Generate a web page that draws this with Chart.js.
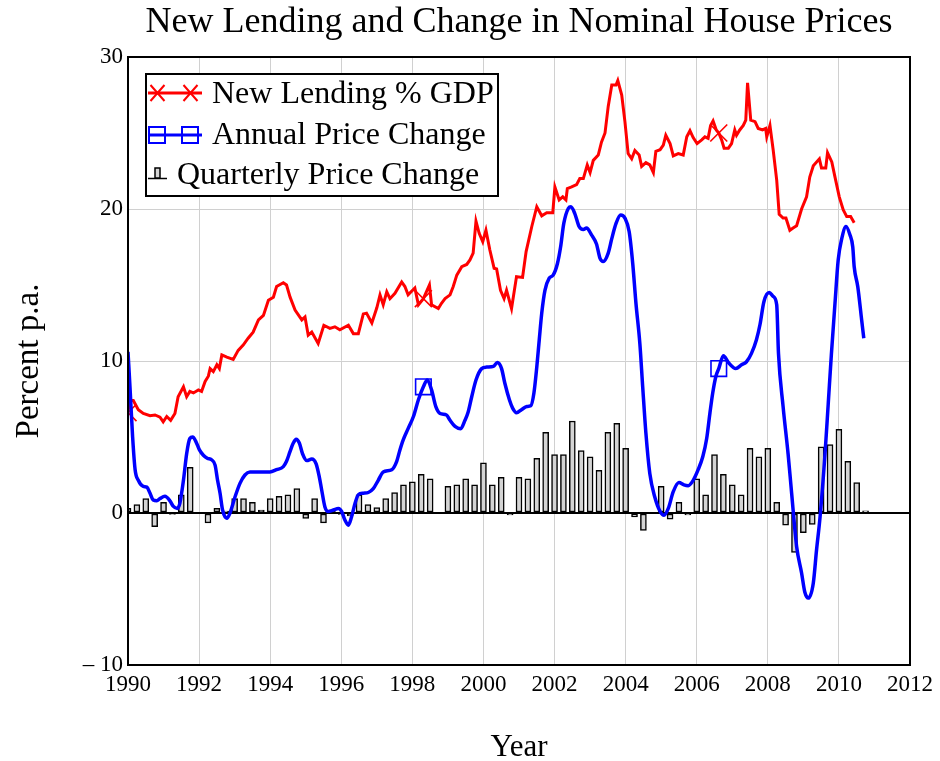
<!DOCTYPE html>
<html>
<head>
<meta charset="utf-8">
<title>New Lending and Change in Nominal House Prices</title>
<script src="https://cdn.jsdelivr.net/npm/chart.js@4.4.0/dist/chart.umd.min.js"></script>
<style>
  html, body { margin: 0; padding: 0; background: #fff; }
  #wrap { width: 940px; height: 761px; }
</style>
</head>
<body>
<div id="wrap"><canvas id="chart" width="940" height="761"></canvas></div>
<script>
// New lending as % of GDP
const lendYears = [
  1990.00, 1990.04, 1990.15, 1990.29, 1990.43, 1990.62, 1990.76, 1990.90, 1990.99, 1991.09,
  1991.20, 1991.32, 1991.41, 1991.56, 1991.65, 1991.74, 1991.84, 1991.98, 1992.07, 1992.17,
  1992.26, 1992.31, 1992.40, 1992.50, 1992.57, 1992.64, 1992.78, 1992.96, 1993.10, 1993.24,
  1993.38, 1993.52, 1993.67, 1993.81, 1993.95, 1994.09, 1994.18, 1994.37, 1994.46, 1994.56,
  1994.70, 1994.89, 1994.98, 1995.07, 1995.17, 1995.35, 1995.51, 1995.68, 1995.82, 1995.96,
  1996.20, 1996.34, 1996.48, 1996.62, 1996.71, 1996.86, 1997.00, 1997.09, 1997.18, 1997.28,
  1997.37, 1997.51, 1997.70, 1997.79, 1997.88, 1998.07, 1998.17, 1998.31, 1998.48, 1998.54,
  1998.73, 1998.82, 1998.92, 1999.06, 1999.15, 1999.25, 1999.39, 1999.53, 1999.62, 1999.71,
  1999.79, 1999.88, 1999.98, 2000.07, 2000.18, 2000.30, 2000.37, 2000.48, 2000.58, 2000.65,
  2000.79, 2000.93, 2001.10, 2001.20, 2001.36, 2001.50, 2001.64, 2001.78, 2001.95, 2002.01,
  2002.13, 2002.23, 2002.32, 2002.36, 2002.48, 2002.62, 2002.71, 2002.81, 2002.92, 2003.00,
  2003.09, 2003.23, 2003.32, 2003.42, 2003.51, 2003.61, 2003.73, 2003.78, 2003.89, 2003.98,
  2004.07, 2004.17, 2004.26, 2004.38, 2004.45, 2004.57, 2004.68, 2004.78, 2004.85, 2004.97,
  2005.06, 2005.13, 2005.25, 2005.34, 2005.48, 2005.62, 2005.72, 2005.81, 2005.90, 2006.01,
  2006.14, 2006.23, 2006.32, 2006.39, 2006.46, 2006.55, 2006.62, 2006.70, 2006.77, 2006.89,
  2006.98, 2007.07, 2007.12, 2007.21, 2007.31, 2007.38, 2007.43, 2007.52, 2007.64, 2007.73,
  2007.85, 2007.94, 2007.97, 2008.06, 2008.15, 2008.25, 2008.32, 2008.43, 2008.51, 2008.62,
  2008.71, 2008.81, 2008.95, 2009.09, 2009.18, 2009.28, 2009.45, 2009.51, 2009.63, 2009.68,
  2009.80, 2009.89, 2010.01, 2010.12, 2010.22, 2010.33, 2010.43
];
const lendValues = [
  6.6, 7.4, 7.4, 6.8, 6.55, 6.4, 6.45, 6.3, 6.0, 6.35,
  6.1, 6.55, 7.65, 8.3, 7.65, 8.0, 7.9, 8.1, 8.0, 8.65,
  9.0, 9.5, 9.3, 9.75, 9.5, 10.4, 10.25, 10.1, 10.7, 11.05,
  11.5, 11.9, 12.7, 13.0, 14.0, 14.2, 14.9, 15.15, 15.0, 14.2,
  13.35, 12.7, 12.9, 11.7, 11.9, 11.15, 12.35, 12.15, 12.25, 12.05,
  12.35, 11.8, 11.8, 13.1, 13.15, 12.5, 13.5, 14.35, 13.7, 14.55,
  14.1, 14.45, 15.2, 14.9, 14.35, 14.8, 13.7, 14.1, 15.0, 13.7,
  13.45, 13.8, 14.1, 14.35, 14.9, 15.65, 16.2, 16.35, 16.65, 17.1,
  19.2, 18.4, 17.85, 18.6, 17.3, 16.1, 16.05, 14.65, 14.1, 14.65,
  13.45, 15.55, 15.5, 17.2, 18.85, 20.15, 19.55, 19.75, 19.75, 21.45,
  20.6, 20.8, 20.6, 21.35, 21.45, 21.6, 22.0, 22.0, 22.9, 22.4,
  23.2, 23.55, 24.4, 25.0, 26.75, 28.15, 28.15, 28.45, 27.5, 25.75,
  23.65, 23.3, 23.85, 23.55, 22.8, 23.05, 22.9, 22.4, 23.8, 23.9,
  24.2, 24.85, 24.3, 23.5, 23.65, 23.55, 24.75, 25.15, 24.7, 24.3,
  24.55, 24.75, 24.65, 25.5, 25.8, 25.2, 25.0, 24.55, 24.0, 24.0,
  24.3, 25.2, 24.85, 25.2, 25.5, 25.85, 28.3, 25.85, 25.75, 25.3,
  25.2, 25.3, 24.75, 25.5, 23.9, 21.9, 19.65, 19.4, 19.4, 18.6,
  18.75, 18.9, 20.0, 20.8, 22.1, 22.85, 23.3, 22.7, 22.7, 23.7,
  23.1, 22.1, 20.8, 19.95, 19.5, 19.5, 19.1
];
const lendMarkers = [1990.00, 1998.31, 2006.62];

// Annual house price change, % p.a.
const annualYears = [
  1990.00, 1990.06, 1990.13, 1990.20, 1990.29, 1990.43, 1990.53, 1990.62, 1990.71, 1990.81,
  1990.90, 1991.04, 1991.18, 1991.27, 1991.39, 1991.46, 1991.56, 1991.65, 1991.74, 1991.82,
  1991.91, 1992.01, 1992.12, 1992.23, 1992.35, 1992.45, 1992.52, 1992.59, 1992.66, 1992.78,
  1992.87, 1993.01, 1993.15, 1993.29, 1993.43, 1993.71, 1993.99, 1994.18, 1994.37, 1994.46,
  1994.56, 1994.65, 1994.73, 1994.82, 1994.91, 1995.03, 1995.17, 1995.29, 1995.38, 1995.45,
  1995.54, 1995.63, 1995.78, 1995.92, 1996.01, 1996.10, 1996.20, 1996.29, 1996.39, 1996.48,
  1996.62, 1996.76, 1996.90, 1997.04, 1997.18, 1997.42, 1997.56, 1997.65, 1997.74, 1997.88,
  1998.03, 1998.17, 1998.31, 1998.42, 1998.54, 1998.66, 1998.78, 1998.96, 1999.06, 1999.20,
  1999.36, 1999.48, 1999.57, 1999.67, 1999.79, 1999.95, 2000.09, 2000.28, 2000.39, 2000.51,
  2000.60, 2000.73, 2000.82, 2000.93, 2001.07, 2001.22, 2001.33, 2001.42, 2001.50, 2001.57,
  2001.64, 2001.73, 2001.85, 2001.96, 2002.08, 2002.17, 2002.26, 2002.39, 2002.46, 2002.57,
  2002.69, 2002.81, 2002.90, 2003.04, 2003.18, 2003.28, 2003.37, 2003.51, 2003.61, 2003.73,
  2003.86, 2003.98, 2004.10, 2004.20, 2004.29, 2004.40, 2004.48, 2004.57, 2004.68, 2004.82,
  2004.97, 2005.08, 2005.20, 2005.34, 2005.50, 2005.64, 2005.76, 2005.90, 2006.04, 2006.17,
  2006.28, 2006.37, 2006.45, 2006.54, 2006.62, 2006.75, 2006.89, 2007.10, 2007.26, 2007.40,
  2007.54, 2007.68, 2007.78, 2007.89, 2008.04, 2008.15, 2008.25, 2008.30, 2008.43, 2008.57,
  2008.67, 2008.81, 2008.95, 2009.04, 2009.14, 2009.28, 2009.37, 2009.47, 2009.61, 2009.70,
  2009.79, 2009.89, 2009.98, 2010.08, 2010.20, 2010.31, 2010.39, 2010.43, 2010.53, 2010.64,
  2010.70
];
const annualValues = [
  10.6, 8.1, 5.0, 2.85, 2.15, 1.75, 1.7, 1.3, 0.85, 0.8,
  0.95, 1.1, 0.8, 0.45, 0.3, 0.65, 2.15, 3.9, 4.9, 5.0,
  4.7, 4.15, 3.8, 3.6, 3.5, 3.15, 2.15, 1.3, 0.2, -0.35,
  0.0, 1.05, 1.95, 2.5, 2.7, 2.7, 2.7, 2.85, 3.05, 3.4,
  4.05, 4.6, 4.85, 4.6, 3.9, 3.45, 3.55, 3.25, 2.4, 1.5,
  0.4, 0.1, 0.2, 0.3, 0.1, -0.45, -0.8, -0.25, 0.65, 1.2,
  1.3, 1.35, 1.6, 2.15, 2.7, 2.85, 3.4, 4.15, 4.8, 5.55,
  6.35, 7.45, 8.3, 8.75, 8.1, 7.0, 6.55, 6.45, 6.1, 5.7,
  5.55, 6.1, 6.65, 7.65, 8.75, 9.5, 9.6, 9.65, 9.9, 9.5,
  8.55, 7.45, 6.9, 6.6, 6.8, 7.0, 7.05, 7.9, 9.6, 11.4,
  13.15, 14.65, 15.45, 15.65, 16.4, 17.5, 19.05, 20.05, 20.15, 19.7,
  18.85, 18.65, 18.75, 18.3, 17.7, 16.75, 16.55, 17.1, 18.05, 19.05,
  19.6, 19.4, 18.5, 16.4, 13.8, 11.15, 8.3, 5.25, 2.6, 1.05,
  0.1, -0.15, 0.3, 1.4, 2.0, 1.85, 1.8, 2.15, 2.85, 3.7,
  4.9, 6.55, 7.9, 9.0, 9.5, 10.35, 9.9, 9.5, 9.75, 9.95,
  10.5, 11.4, 12.4, 13.9, 14.5, 14.25, 13.7, 10.5, 7.0, 3.9,
  1.3, -2.2, -3.95, -5.2, -5.6, -4.6, -2.45, -0.25, 3.9, 7.2,
  10.5, 13.8, 16.65, 18.05, 18.85, 18.3, 17.5, 16.2, 14.9, 12.7,
  11.5
];
const annualMarkers = [1998.31, 2006.62];

// Quarterly house price change, one bar per quarter from 1990 Q1
const firstQuarter = 1990;
const quarterlyValues = [
  0.3, 0.55, 0.95, -0.9, 0.7, -0.1, 1.2, 3.0, 0.0, -0.65,
  0.3, 0.13, 0.95, 0.95, 0.7, 0.2, 0.95, 1.1, 1.2, 1.6,
  -0.35, 0.95, -0.65, 0.2, -0.1, -0.2, 1.2, 0.55, 0.35, 0.95,
  1.35, 1.85, 2.05, 2.55, 2.25, 0.0, 1.75, 1.85, 2.25, 1.85,
  3.3, 1.85, 2.35, -0.13, 2.35, 2.25, 3.6, 5.3, 3.85, 3.85,
  6.05, 4.1, 3.7, 2.8, 5.3, 5.9, 4.25, -0.25, -1.15, 0.0,
  1.75, -0.4, 0.7, -0.13, 2.25, 1.2, 3.85, 2.55, 1.85, 1.2,
  4.25, 3.7, 4.25, 0.7, -0.8, -2.6, -1.3, -0.75, 4.35, 4.5,
  5.5, 3.4, 2.0, 0.15
];

const titleText = 'New Lending and Change in Nominal House Prices';
const serif = "'Liberation Serif', 'Times New Roman', serif";

const lendPoints = lendYears.map((x, i) => ({ x: x, y: lendValues[i] }));
const annualPoints = annualYears.map((x, i) => ({ x: x, y: annualValues[i] }));
const quarterPoints = quarterlyValues.map((y, i) => ({ x: firstQuarter + i / 4, y: y }));

const markerRadius = (list, r) => ctx => (ctx.raw && list.includes(ctx.raw.x)) ? r : 0;

// plot frame, title centred over the plot, and the boxed key
const frameAndKey = {
  id: 'frameAndKey',
  afterDatasetsDraw(chart) {
    const { ctx, chartArea: a } = chart;
    ctx.save();
    ctx.strokeStyle = '#000';
    ctx.lineWidth = 2;
    ctx.strokeRect(a.left, a.top, a.right - a.left, a.bottom - a.top);

    ctx.fillStyle = '#000';
    ctx.font = '36px ' + serif;
    ctx.textAlign = 'center';
    ctx.textBaseline = 'alphabetic';
    ctx.fillText(titleText, (a.left + a.right) / 2, 32);

    // key box
    ctx.fillStyle = '#fff';
    ctx.fillRect(146, 74, 352, 122);
    ctx.strokeRect(146, 74, 352, 122);

    // new lending: red line with crosses
    ctx.strokeStyle = '#ff0000';
    ctx.lineWidth = 3;
    ctx.beginPath(); ctx.moveTo(148, 93); ctx.lineTo(202, 93); ctx.stroke();
    ctx.lineWidth = 2;
    [157.5, 190.5].forEach(cx => {
      ctx.beginPath();
      ctx.moveTo(cx - 7, 85); ctx.lineTo(cx + 7, 101);
      ctx.moveTo(cx - 7, 101); ctx.lineTo(cx + 7, 85);
      ctx.stroke();
    });

    // annual change: blue line with squares
    ctx.strokeStyle = '#0000ff';
    ctx.lineWidth = 3;
    ctx.beginPath(); ctx.moveTo(148, 135); ctx.lineTo(202, 135); ctx.stroke();
    ctx.lineWidth = 2;
    [157, 190].forEach(cx => ctx.strokeRect(cx - 8, 127, 16, 16));

    // quarterly change: small bar on a base line
    ctx.strokeStyle = '#000';
    ctx.lineWidth = 1.5;
    ctx.beginPath(); ctx.moveTo(148, 178.5); ctx.lineTo(167, 178.5); ctx.stroke();
    ctx.fillStyle = '#d4d4d4';
    ctx.fillRect(155, 168, 5, 10);
    ctx.strokeRect(155, 168, 5, 10);

    ctx.fillStyle = '#000';
    ctx.font = '32px ' + serif;
    ctx.textAlign = 'left';
    ctx.fillText('New Lending % GDP', 212, 103);
    ctx.fillText('Annual Price Change', 212, 144);
    ctx.fillText('Quarterly Price Change', 177, 184);
    ctx.restore();
  }
};

new Chart(document.getElementById('chart'), {
  type: 'bar',
  data: {
    datasets: [
      {
        type: 'line',
        label: 'New Lending % GDP',
        data: lendPoints,
        borderColor: '#ff0000',
        borderWidth: 3,
        tension: 0,
        pointStyle: 'crossRot',
        pointRadius: markerRadius(lendMarkers, 12),
        pointBorderColor: '#ff0000',
        pointBorderWidth: 1.6,
        clip: 0,
        order: 2
      },
      {
        type: 'line',
        label: 'Annual Price Change',
        data: annualPoints,
        borderColor: '#0000ff',
        borderWidth: 3.5,
        cubicInterpolationMode: 'monotone',
        pointStyle: 'rect',
        pointRadius: markerRadius(annualMarkers, 11),
        pointBorderColor: '#0000ff',
        pointBackgroundColor: 'rgba(0,0,0,0)',
        pointBorderWidth: 1.6,
        clip: 0,
        order: 1
      },
      {
        type: 'bar',
        label: 'Quarterly Price Change',
        data: quarterPoints,
        backgroundColor: '#d4d4d4',
        borderColor: '#000',
        borderWidth: 1.5,
        borderSkipped: false,
        barThickness: 6,
        clip: 0,
        order: 3
      }
    ]
  },
  options: {
    responsive: false,
    devicePixelRatio: 1,
    animation: false,
    events: [],
    layout: { padding: { left: 0, right: 30, top: 57, bottom: 0 } },
    plugins: {
      legend: { display: false },
      tooltip: { enabled: false },
      title: { display: false }
    },
    scales: {
      x: {
        type: 'linear',
        min: 1990,
        max: 2012,
        offset: false,
        ticks: {
          stepSize: 2,
          autoSkip: false,
          maxRotation: 0,
          padding: 6,
          color: '#000',
          font: { family: serif, size: 23 },
          callback: v => String(v)
        },
        grid: { color: '#d0d0d0', lineWidth: 1, drawTicks: false, offset: false },
        border: { color: '#000', width: 2 },
        title: {
          display: true,
          text: 'Year',
          color: '#000',
          font: { family: serif, size: 31 },
          padding: { top: 0, bottom: -5 }
        },
        afterFit: s => { s.height = 96; }
      },
      y: {
        type: 'linear',
        min: -10,
        max: 30,
        ticks: {
          stepSize: 10,
          padding: 5,
          color: '#000',
          font: { family: serif, size: 23 },
          callback: v => v < 0 ? '\u2013 ' + Math.abs(v) : String(v)
        },
        grid: {
          color: c => (c.tick && c.tick.value === 0) ? '#000' : '#d0d0d0',
          lineWidth: c => (c.tick && c.tick.value === 0) ? 2 : 1,
          drawTicks: false
        },
        border: { color: '#000', width: 2 },
        title: {
          display: true,
          text: 'Percent p.a.',
          color: '#000',
          font: { family: serif, size: 33 },
          padding: { top: 10, bottom: 0 }
        },
        afterFit: s => { s.width = 128; }
      }
    }
  },
  plugins: [frameAndKey]
});
</script>
</body>
</html>
